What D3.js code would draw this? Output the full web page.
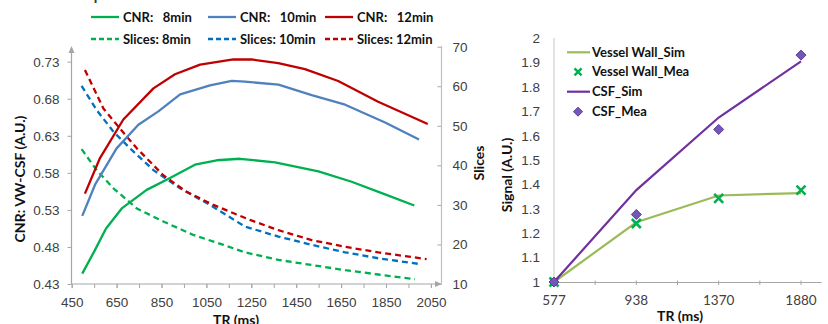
<!DOCTYPE html>
<html>
<head>
<meta charset="utf-8">
<script src="https://cdn.jsdelivr.net/npm/d3@7/dist/d3.min.js"></script>
<style>
  body { margin: 0; background: #fff; }
  svg { display: block; font-family: Lato, "Open Sans", sans-serif; }
  text { white-space: pre; }
</style>
</head>
<body>
<svg id="chart" width="828" height="324"></svg>
<script>
// ---- left chart data: [TR (ms), value] ----
const cnr8 = [[497, 0.444], [554, 0.476], [603, 0.505], [673, 0.532], [784, 0.557], [888, 0.573],
  [999, 0.591], [1096, 0.597], [1200, 0.599], [1356, 0.594], [1549, 0.582], [1697, 0.568],
  [1846, 0.551], [1976, 0.536]];
const cnr10 = [[497, 0.522], [554, 0.564], [650, 0.613], [747, 0.645], [836, 0.663], [933, 0.686],
  [1066, 0.698], [1163, 0.704], [1222, 0.703], [1371, 0.699], [1519, 0.685], [1668, 0.672],
  [1846, 0.648], [1997, 0.625]];
const cnr12 = [[509, 0.552], [576, 0.600], [680, 0.652], [814, 0.694], [910, 0.713], [1022, 0.726],
  [1170, 0.733], [1252, 0.733], [1370, 0.728], [1489, 0.720], [1637, 0.704], [1815, 0.676],
  [2036, 0.646]];
const slices8 = [[494, 44.1], [561, 38.8], [636, 34.2], [740, 29.1], [858, 25.8], [992, 22.4],
  [1126, 19.9], [1222, 18.0], [1371, 16.1], [1519, 14.8], [1668, 13.5], [1816, 12.4], [1979, 11.2]];
const slices10 = [[494, 60.1], [561, 54.0], [636, 48.5], [710, 44.3], [814, 38.8], [933, 34.2],
  [1066, 30.0], [1222, 24.5], [1371, 22.0], [1519, 19.9], [1668, 18.0], [1816, 16.5], [1994, 15.1]];
const slices12 = [[509, 64.1], [591, 54.4], [665, 49.3], [740, 44.3], [858, 37.5], [962, 33.3],
  [1081, 30.0], [1244, 26.2], [1371, 23.6], [1519, 21.1], [1668, 19.4], [1816, 18.0], [2031, 16.3]];

const trLabels = [450, 650, 850, 1050, 1250, 1450, 1650, 1850, 2050];
const trMinor = [450, 550, 650, 750, 850, 950, 1050, 1150, 1250, 1350, 1450, 1550, 1650, 1750, 1850, 1950, 2050];
const cnrTicks = [0.43, 0.48, 0.53, 0.58, 0.63, 0.68, 0.73];
const sliceTicks = [10, 20, 30, 40, 50, 60, 70];

// ---- right chart data ----
const trCats = ['577', '938', '1370', '1880'];
const wallSim = [1.0, 1.245, 1.355, 1.365];
const wallMea = [1.0, 1.240, 1.343, 1.377];
const csfSim = [1.0, 1.377, 1.675, 1.905];
const csfMea = [1.0, 1.277, 1.626, 1.931];
const signalTicks = [1, 1.1, 1.2, 1.3, 1.4, 1.5, 1.6, 1.7, 1.8, 1.9, 2];

const green = '#00b050', blueSolid = '#4f81bd', blueDash = '#0070c0', red = '#c00000';
const axisGray = '#a6a6a6', labelGray = '#404040';

const svg = d3.select('#chart');

// slide title, cut off by the top edge as in the screenshot
svg.append('text').attr('x', 192).attr('y', 0).attr('text-anchor', 'end')
  .attr('font-size', 20).attr('fill', '#333').text('Optimization parameters');

// ================= left chart =================
const xL = d3.scaleLinear().domain([450, 2050]).range([71.7, 430.9]);
const yL = d3.scaleLinear().domain([0.43, 0.73]).range([284, 61.7]);
const yR = d3.scaleLinear().domain([10, 70]).range([284, 46.7]);

function styleAxis(g, size) {
  g.select('.domain').remove();
  g.selectAll('.tick line').attr('stroke', axisGray);
  g.selectAll('.tick text').attr('fill', labelGray).attr('font-size', size);
}

svg.append('g').attr('transform', 'translate(71.5,0)')
  .call(d3.axisLeft(yL).tickValues(cnrTicks).tickSize(4).tickPadding(8).tickFormat(d3.format('.2f')))
  .call(g => styleAxis(g, 13.5));

svg.append('g').attr('transform', 'translate(441.5,0)')
  .call(d3.axisRight(yR).tickValues(sliceTicks).tickSizeInner(-4).tickSizeOuter(0).tickPadding(11))
  .call(g => styleAxis(g, 13.5));

svg.append('g').attr('transform', 'translate(0,284)')
  .call(d3.axisBottom(xL).tickValues(trMinor).tickSize(4).tickFormat(''))
  .call(g => styleAxis(g, 13.5));
svg.append('g').attr('transform', 'translate(0,284)')
  .call(d3.axisBottom(xL).tickValues(trLabels).tickSize(4).tickPadding(9).tickFormat(d3.format('d')))
  .call(g => styleAxis(g, 13.5));

// axis lines with arrows
svg.append('path').attr('d', 'M71.5,284V49').attr('stroke', axisGray).attr('stroke-width', 1.2);
svg.append('path').attr('d', 'M71.5,46L68.5,53L74.5,53Z').attr('fill', axisGray);
svg.append('path').attr('d', 'M71.5,284H438').attr('stroke', axisGray).attr('stroke-width', 1.2);
svg.append('path').attr('d', 'M442,284L435,281L435,287Z').attr('fill', axisGray);
svg.append('path').attr('d', 'M441.5,284V46').attr('stroke', '#bfbfbf').attr('stroke-width', 1.2);

const lineL = d3.line().x(d => xL(d[0])).y(d => yL(d[1]));
const lineR = d3.line().x(d => xL(d[0])).y(d => yR(d[1]));

const leftSeries = [
  { data: slices8, line: lineR, color: green, dash: '6,4' },
  { data: slices10, line: lineR, color: blueDash, dash: '6,4' },
  { data: slices12, line: lineR, color: red, dash: '6,4' },
  { data: cnr8, line: lineL, color: green, dash: null },
  { data: cnr10, line: lineL, color: blueSolid, dash: null },
  { data: cnr12, line: lineL, color: red, dash: null }
];
leftSeries.forEach(s => {
  svg.append('path').attr('d', s.line(s.data)).attr('fill', 'none')
    .attr('stroke', s.color).attr('stroke-width', 2.3)
    .attr('stroke-dasharray', s.dash).attr('stroke-linejoin', 'round');
});

// legend (2 rows x 3 columns)
const legendL = [
  { label: 'CNR:   8min', color: green, dash: null, col: 0, row: 0 },
  { label: 'CNR:   10min', color: blueSolid, dash: null, col: 1, row: 0 },
  { label: 'CNR:   12min', color: red, dash: null, col: 2, row: 0 },
  { label: 'Slices: 8min', color: green, dash: '5,3', col: 0, row: 1 },
  { label: 'Slices: 10min', color: blueDash, dash: '5,3', col: 1, row: 1 },
  { label: 'Slices: 12min', color: red, dash: '5,3', col: 2, row: 1 }
];
const legX = [91, 208, 325], legY = [17, 39];
legendL.forEach(d => {
  const x0 = legX[d.col], y0 = legY[d.row];
  svg.append('line').attr('x1', x0).attr('x2', x0 + 28).attr('y1', y0).attr('y2', y0)
    .attr('stroke', d.color).attr('stroke-width', 2.3).attr('stroke-dasharray', d.dash);
  svg.append('text').attr('x', x0 + 32).attr('y', y0 + 4.5).attr('font-size', 13)
    .attr('font-weight', 'bold').attr('fill', '#111').text(d.label);
});

svg.append('text').attr('transform', 'translate(25,179) rotate(-90)').attr('text-anchor', 'middle')
  .attr('font-size', 14).attr('font-weight', 'bold').attr('fill', '#111').text('CNR: VW-CSF (A.U.)');
svg.append('text').attr('transform', 'translate(484,163) rotate(-90)').attr('text-anchor', 'middle')
  .attr('font-size', 14).attr('font-weight', 'bold').attr('fill', '#111').text('Slices');
svg.append('text').attr('x', 236).attr('y', 324.5).attr('text-anchor', 'middle')
  .attr('font-size', 14).attr('font-weight', 'bold').attr('fill', '#111').text('TR (ms)');

// ================= right chart =================
const xC = d3.scalePoint().domain(trCats).range([554, 801]);
const yS = d3.scaleLinear().domain([1, 2]).range([282, 38.3]);

svg.append('g').attr('transform', 'translate(554,0)')
  .call(d3.axisLeft(yS).tickValues(signalTicks).tickSize(0).tickPadding(14).tickFormat(d => +d.toFixed(1)))
  .call(g => styleAxis(g, 13.5));
svg.append('path').attr('d', 'M554,282.5V38').attr('stroke', '#d0d0d0').attr('stroke-width', 1.2);

const step = xC.step();
const catTicks = [];
trCats.forEach((c, i) => {
  catTicks.push(xC(c));
  if (i < trCats.length - 1) catTicks.push(xC(c) + step / 2);
});
svg.append('path').attr('d', 'M554,282.5H' + (xC(trCats[trCats.length - 1]) + step / 4))
  .attr('stroke', axisGray).attr('stroke-width', 1.2);
catTicks.forEach(t => {
  svg.append('line').attr('x1', t).attr('x2', t).attr('y1', 280.5).attr('y2', 285)
    .attr('stroke', axisGray);
});
trCats.forEach(c => {
  svg.append('text').attr('x', xC(c)).attr('y', 305).attr('text-anchor', 'middle')
    .attr('font-size', 13.5).attr('fill', labelGray).text(c);
});

const lineS = d3.line().x((d, i) => xC(trCats[i])).y(d => yS(d));
svg.append('path').attr('d', lineS(wallSim)).attr('fill', 'none')
  .attr('stroke', '#9bbb59').attr('stroke-width', 2.2);
const xMark = 'M-4.5,-4.5L4.5,4.5M4.5,-4.5L-4.5,4.5';
wallMea.forEach((v, i) => {
  svg.append('path').attr('d', xMark).attr('transform', `translate(${xC(trCats[i])},${yS(v)})`)
    .attr('stroke', green).attr('stroke-width', 2.6).attr('fill', 'none');
});
svg.append('path').attr('d', lineS(csfSim)).attr('fill', 'none')
  .attr('stroke', '#7030a0').attr('stroke-width', 2.2);
const diamond = 'M0,-5L5,0L0,5L-5,0Z';
csfMea.forEach((v, i) => {
  svg.append('path').attr('d', diamond).attr('transform', `translate(${xC(trCats[i])},${yS(v)})`)
    .attr('fill', '#7356b8').attr('stroke', '#5a3c9a').attr('stroke-width', 1);
});

// right legend
const legendR = [
  { label: 'Vessel Wall_Sim', type: 'line', color: '#9bbb59' },
  { label: 'Vessel Wall_Mea', type: 'x', color: green },
  { label: 'CSF_Sim', type: 'line', color: '#7030a0' },
  { label: 'CSF_Mea', type: 'diamond', color: '#7356b8' }
];
const legRY = [52.3, 71.8, 91.7, 111.7];
legendR.forEach((d, i) => {
  const y0 = legRY[i];
  if (d.type === 'line') {
    svg.append('line').attr('x1', 567).attr('x2', 590).attr('y1', y0).attr('y2', y0)
      .attr('stroke', d.color).attr('stroke-width', 2.2);
  } else if (d.type === 'x') {
    svg.append('path').attr('d', 'M-3.5,-3.5L3.5,3.5M3.5,-3.5L-3.5,3.5')
      .attr('transform', `translate(578,${y0})`).attr('stroke', d.color).attr('stroke-width', 2.4);
  } else {
    svg.append('path').attr('d', 'M0,-4.5L4.5,0L0,4.5L-4.5,0Z')
      .attr('transform', `translate(578,${y0})`).attr('fill', d.color).attr('stroke', '#5a3c9a');
  }
  svg.append('text').attr('x', 592).attr('y', y0 + 4.5).attr('font-size', 13)
    .attr('font-weight', 'bold').attr('fill', '#111').text(d.label);
});

svg.append('text').attr('transform', 'translate(512,175) rotate(-90)').attr('text-anchor', 'middle')
  .attr('font-size', 14).attr('font-weight', 'bold').attr('fill', '#111').text('Signal (A.U.)');
svg.append('text').attr('x', 680).attr('y', 320.5).attr('text-anchor', 'middle')
  .attr('font-size', 14).attr('font-weight', 'bold').attr('fill', '#111').text('TR (ms)');
</script>
</body>
</html>
